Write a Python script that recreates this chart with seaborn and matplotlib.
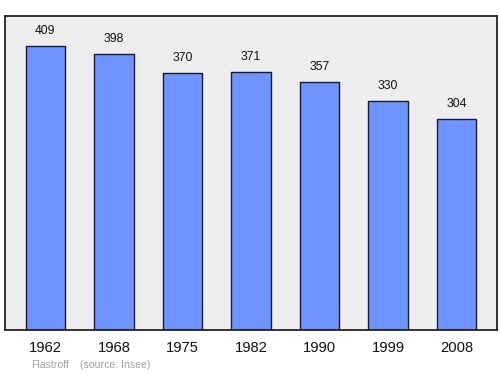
import matplotlib
matplotlib.use("Agg")
import matplotlib.pyplot as plt
import seaborn as sns
import pandas as pd

years = ["1962", "1968", "1975", "1982", "1990", "1999", "2008"]
population = [409, 398, 370, 371, 357, 330, 304]

sns.set_style("white")
plt.rcParams['font.family'] = ['Liberation Sans', 'DejaVu Sans']

df = pd.DataFrame({"year": years, "pop": population})

fig = plt.figure(figsize=(5.0, 3.74), dpi=100)
ax = fig.add_axes([5/500, 1 - 330/374, 492/500, 314/374])
ax.set_facecolor("#eeeeee")

sns.barplot(data=df, x="year", y="pop", color="#7094ff", saturation=1,
            width=0.57, edgecolor="#1a1a2e", linewidth=1.0, ax=ax)

for p, v in zip(ax.patches, population):
    p.set_joinstyle("round")
    ax.annotate(str(v), (p.get_x() + p.get_width() / 2, p.get_height()),
                xytext=(0, 10.8), textcoords="offset points",
                ha="center", va="center", fontsize=8.8, color="#111111")

ax.set_xlim(-0.591, 6.591)
ax.set_ylim(0, 452)
ax.set_yticks([])
ax.set_xlabel("")
ax.set_ylabel("")
ax.tick_params(axis="x", length=0, pad=8, labelsize=10.6, labelcolor="#111111")
for s in ax.spines.values():
    s.set_visible(True)
    s.set_color("#222222")
    s.set_linewidth(1.3)

fig.text(31/500, 1 - 365/374, "Flastroff", fontsize=7.6, color="#a0a0a0",
         ha="left", va="center")
fig.text(80/500, 1 - 365/374, "(source: Insee)", fontsize=7.6, color="#a0a0a0",
         ha="left", va="center")

fig.savefig("out.png", dpi=100, facecolor="white")
